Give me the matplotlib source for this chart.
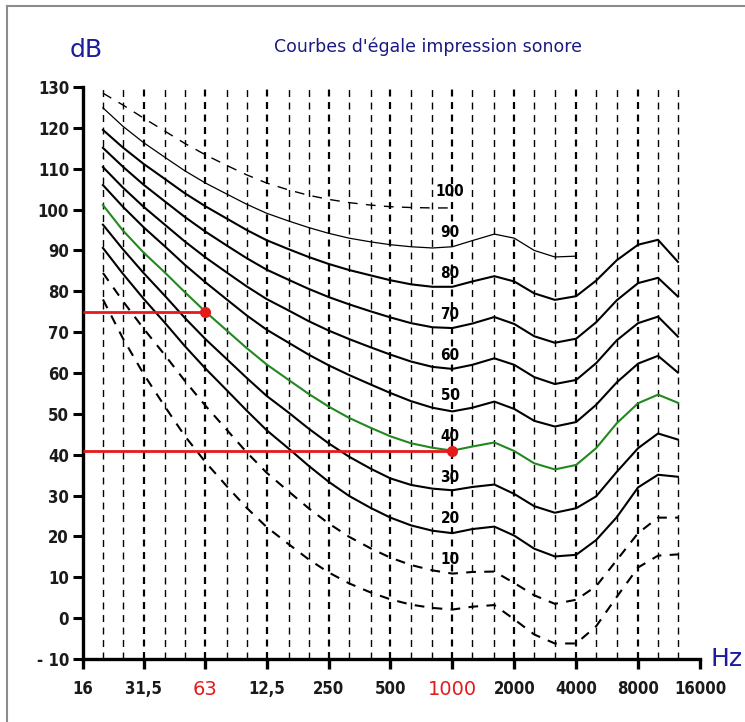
import matplotlib
matplotlib.use('Agg')
import matplotlib.pyplot as plt
import numpy as np

# third-octave frequencies (Hz) at which the curves were read
freqs = [20, 25, 31.5, 40, 50, 63, 80, 100, 125, 160, 200, 250, 315, 400, 500,
         630, 800, 1000, 1250, 1600, 2000, 2500, 3150, 4000, 5000, 6300, 8000,
         10000, 12500]

# levels in dB for each loudness level (phon)
phon_100 = [128.5, 125.6, 122.4, 119.2, 116.2, 113.4, 110.8, 108.5, 106.5, 104.8,
            103.5, 102.5, 101.7, 101.1, 100.7, 100.5, 100.4, 100.4]
phon_90 = [124.9, 120.4, 116.4, 112.8, 109.5, 106.5, 103.8, 101.3, 99.1, 97.2,
           95.6, 94.2, 93, 92.1, 91.4, 90.9, 90.6, 90.9, 92.4, 94, 93, 90, 88.4,
           88.6]
phon_80 = [119.5, 115.2, 111.2, 107.5, 104, 100.8, 97.8, 95, 92.5, 90.3, 88.4,
           86.7, 85.2, 83.9, 82.7, 81.7, 81.1, 81.1, 82.4, 83.7, 82.4, 79.5, 77.9,
           78.8, 82.6, 87.6, 91.4, 92.6, 87.2]
phon_70 = [115.1, 110.5, 106.1, 102, 98.2, 94.6, 91.2, 88.1, 85.3, 82.8, 80.6,
           78.6, 76.8, 75.1, 73.6, 72.2, 71.2, 71, 72.1, 73.7, 72, 69, 67.4, 68.4,
           72.4, 77.8, 82, 83.3, 78.7]
phon_60 = [110.4, 105.4, 100.7, 96.3, 92.2, 88.3, 84.6, 81.2, 78.1, 75.3, 72.7,
           70.4, 68.3, 66.3, 64.5, 62.8, 61.5, 61, 62, 63.6, 62, 59, 57.3, 58.3,
           62.4, 68, 72.2, 73.8, 68.9]
phon_50 = [106, 100.7, 95.7, 91, 86.5, 82.2, 78, 74.1, 70.6, 67.4, 64.5, 61.9,
           59.5, 57.2, 55.1, 53.1, 51.5, 50.6, 51.5, 53, 51.2, 48.3, 46.9, 48,
           52.2, 57.7, 62.3, 64.2, 60.1]
phon_40 = [101.1, 94.9, 89.5, 84.6, 79.8, 75, 70.4, 66.1, 62.1, 58.3, 54.9, 51.8,
           49, 46.6, 44.5, 42.8, 41.7, 41, 42, 43, 40.9, 37.9, 36.4, 37.5, 41.6,
           47.7, 52.6, 54.7, 52.7]
phon_30 = [96.3, 90.3, 84.5, 78.9, 73.5, 68.3, 63.4, 58.8, 54.4, 50.3, 46.4, 42.8,
           39.5, 36.6, 34.2, 32.6, 31.7, 31.3, 32.1, 32.7, 30.4, 27.4, 25.8, 26.9,
           29.8, 35.8, 41.6, 45.2, 43.7]
phon_20 = [90.6, 84.3, 78.2, 72.3, 66.6, 61.1, 55.8, 50.8, 46, 41.5, 37.3, 33.4,
           29.9, 27, 24.6, 22.7, 21.4, 20.8, 21.8, 22.4, 20.2, 17, 15.1, 15.5,
           19.1, 24.7, 32, 35.1, 34.6]
phon_10 = [84.5, 77.6, 70.9, 64.4, 58.1, 52, 46.1, 40.6, 35.6, 31, 26.9, 23.2,
           19.9, 17.1, 14.8, 13, 11.7, 10.9, 11.3, 11.4, 8.6, 5.6, 3.5, 4.5, 7.8,
           14.2, 20.8, 24.6, 24.6]
phon_0 = [78, 68.5, 59.8, 51.8, 44.6, 38.2, 32.3, 27, 22.3, 18.1, 14.4, 11.2, 8.5,
          6.3, 4.6, 3.3, 2.5, 2.1, 2.8, 3.2, -0.3, -4, -6.2, -6.2, -2, 5.2, 12.4,
          15.3, 15.6]

label_phons = [100, 90, 80, 70, 60, 50, 40, 30, 20, 10]

octave_ticks = [16, 31.5, 63, 125, 250, 500, 1000, 2000, 4000, 8000, 16000]
octave_labels = ['16', '31,5', '63', '12,5', '250', '500', '1000', '2000',
                 '4000', '8000', '16000']
red_labels = ['63', '1000']

db_ticks = list(range(-10, 131, 10))
db_labels = ['- 10' if v < 0 else str(v) for v in db_ticks]

# the two worked examples (red)
mark_freqs = [63, 1000]
mark_levels = [75, 41]

RED = '#e31b1b'
GREEN = '#22881f'
BLUE = '#1c1c9c'
NUMFONT = 'DejaVu Sans'

plt.rcParams['lines.scale_dashes'] = False

fig = plt.figure(figsize=(7.45, 7.22), dpi=100)
ax = fig.add_axes([83 / 745, 63 / 722, 617 / 745, 572 / 722])
ax.set_xscale('log')
ax.set_xlim(16, 16000)
ax.set_ylim(-10, 130)

# vertical dashed grid, octave lines heavier
for f in freqs:
    lw = 1.6 if f in octave_ticks else 1.0
    ax.axvline(f, color='black', lw=lw, linestyle=(0, (5, 4)), zorder=1)

curves = [
    (phon_100, 'black', 1.0, (0, (7, 6))),
    (phon_90, 'black', 0.9, '-'),
    (phon_80, 'black', 1.5, '-'),
    (phon_70, 'black', 1.5, '-'),
    (phon_60, 'black', 1.5, '-'),
    (phon_50, 'black', 1.5, '-'),
    (phon_40, GREEN, 1.5, '-'),
    (phon_30, 'black', 1.5, '-'),
    (phon_20, 'black', 1.5, '-'),
    (phon_10, 'black', 1.5, (0, (7, 6))),
    (phon_0, 'black', 1.5, (0, (7, 6))),
]
for vals, col, lw, ls in curves:
    ax.plot(freqs[:len(vals)], vals, color=col, lw=lw, linestyle=ls, zorder=3,
            solid_joinstyle='round')

for p in label_phons:
    ax.text(975, p + 4.4, str(p), ha='center', va='center', fontsize=11,
            fontweight='bold', family=NUMFONT, fontstretch='condensed', zorder=4)

# red examples
ax.hlines(mark_levels, 16, mark_freqs, color=RED, lw=2, zorder=5)
ax.plot(mark_freqs, mark_levels, 'o', color=RED, ms=7, zorder=6)

for side in ['top', 'right']:
    ax.spines[side].set_visible(False)
for side in ['left', 'bottom']:
    ax.spines[side].set_linewidth(2.4)

ax.set_yticks(db_ticks)
ax.set_yticklabels(db_labels, family=NUMFONT, fontstretch='condensed',
                   fontsize=12, fontweight='bold', color='#1a1a1a')
ax.set_xticks(octave_ticks)
ax.set_xticklabels(octave_labels, family=NUMFONT, fontstretch='condensed',
                   fontsize=12, fontweight='bold', color='#1a1a1a')
ax.xaxis.set_minor_locator(matplotlib.ticker.NullLocator())
ax.tick_params(axis='y', direction='out', length=7, width=2.2, pad=3)
ax.tick_params(axis='x', direction='out', length=7, width=2.4, pad=8)

for t in ax.get_xticklabels():
    if t.get_text() in red_labels:
        t.set_color(RED)
        t.set_fontweight('normal')
        t.set_fontstretch('normal')
        t.set_fontsize(14)

fig.text(428 / 745, 1 - 47 / 722, "Courbes d'égale impression sonore",
         ha='center', va='center', fontsize=12.5, color='#1a1a80')
fig.text(86 / 745, 1 - 50 / 722, 'dB', ha='center', va='center',
         fontsize=18, color=BLUE)
fig.text(727 / 745, 1 - 659 / 722, 'Hz', ha='center', va='center',
         fontsize=18, color=BLUE)

# grey frame edge of the original picture
fig.add_artist(plt.Line2D([7 / 745, 7 / 745], [0, 1 - 6 / 722],
                          color='#8c8c8c', lw=1.5))
fig.add_artist(plt.Line2D([7 / 745, 1], [1 - 6 / 722, 1 - 6 / 722],
                          color='#8c8c8c', lw=1.5))

fig.savefig('out.png', dpi=100, facecolor='white')
